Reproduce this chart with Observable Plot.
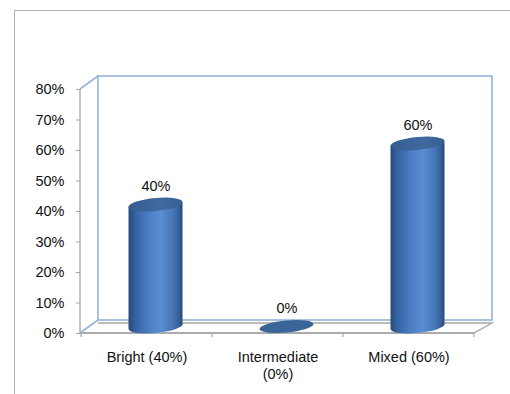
<!DOCTYPE html>
<html><head><meta charset="utf-8">
<script src="https://cdn.jsdelivr.net/npm/d3@7"></script>
<script src="https://cdn.jsdelivr.net/npm/@observablehq/plot@0.6"></script>
<style>
html,body{margin:0;padding:0;background:#fff;}
#wrap{position:relative;width:510px;height:394px;overflow:hidden;}
#chart{position:absolute;left:0;top:0;}
#border{position:absolute;left:14px;top:10px;right:-4px;bottom:-4px;border-left:1px solid #B0B0B0;border-top:1px solid #B0B0B0;pointer-events:none;}
</style></head><body><div id="wrap"><div id="chart"></div><div id="border"></div></div>
<script>
const categories = ["Bright (40%)", "Intermediate\n(0%)", "Mixed (60%)"];
const values = [0.40, 0.00, 0.60];
const valueLabels = ["40%", "0%", "60%"];
const yTicks = [0, 0.1, 0.2, 0.3, 0.4, 0.5, 0.6, 0.7, 0.8];
const yMax = 0.8;

const data = categories.map((c, i) => ({category: c, value: values[i], label: valueLabels[i]}));

const DX = 18, DY = -13;          // depth offset of the back wall
const WALL = "#95B3D7", GRID = "#A6A6A6";

function scene(index, scales, vals, dimensions) {
  const {width, marginLeft, marginRight} = dimensions;
  const x0 = marginLeft, x1 = width - marginRight;
  const yb = scales.y(0), yt = scales.y(yMax);
  const n = categories.length;
  const bw = scales.x.bandwidth ? scales.x.bandwidth() : (x1 - x0) / n;
  const g = d3.create("svg:g");
  const defs = g.append("defs");
  const grad = defs.append("linearGradient").attr("id", "cyl").attr("x1", 0).attr("x2", 1).attr("y1", 0).attr("y2", 0);
  [[0, "#274a78"], [0.12, "#3461a0"], [0.35, "#4a7cc0"], [0.6, "#5a8ed4"], [0.82, "#4676b6"], [0.94, "#345e98"], [1, "#26466f"]]
    .forEach(([o, c]) => grad.append("stop").attr("offset", o).attr("stop-color", c));
  const tgrad = defs.append("linearGradient").attr("id", "cyltop").attr("x1", 0).attr("x2", 1).attr("y1", 0).attr("y2", 0);
  [[0, "#355d8f"], [0.6, "#4069a0"], [1, "#36608f"]]
    .forEach(([o, c]) => tgrad.append("stop").attr("offset", o).attr("stop-color", c));

  // floor
  g.append("path").attr("d", `M${x0},${yb}L${x1},${yb}L${x1 + DX},${yb + DY + 3}L${x0 + DX},${yb + DY + 3}`)
    .attr("fill", "none").attr("stroke", GRID).attr("stroke-width", 1.3);
  // back wall
  g.append("rect").attr("x", x0 + DX).attr("y", yt + DY).attr("width", x1 - x0).attr("height", yb - yt)
    .attr("fill", "none").attr("stroke", WALL).attr("stroke-width", 1.6);
  // side wall diagonals
  g.append("line").attr("x1", x0).attr("y1", yt).attr("x2", x0 + DX).attr("y2", yt + DY).attr("stroke", WALL).attr("stroke-width", 1.6);
  g.append("line").attr("x1", x0).attr("y1", yb).attr("x2", x0 + DX).attr("y2", yb + DY).attr("stroke", WALL).attr("stroke-width", 1.6);
  // front axis line
  g.append("line").attr("x1", x0).attr("y1", yt).attr("x2", x0).attr("y2", yb).attr("stroke", GRID).attr("stroke-width", 1.3);
  g.append("line").attr("x1", x0).attr("y1", yb).attr("x2", x1).attr("y2", yb).attr("stroke", GRID).attr("stroke-width", 1.3);
  // category boundary ticks
  const bounds = categories.map(c => scales.x(c)).concat([scales.x(categories[n - 1]) + bw]);
  bounds.forEach(b => g.append("line").attr("x1", b).attr("x2", b).attr("y1", yb).attr("y2", yb + 4).attr("stroke", GRID).attr("stroke-width", 1.2));

  // cylinders
  const rx = bw * 0.206, ry = 6.5;
  data.forEach(d => {
    const cx = scales.x(d.category) + bw / 2 + DX / 2;
    const base = yb + DY / 2;
    const top = scales.y(d.value) + DY / 2;
    const cg = g.append("g").attr("transform", `translate(${cx},0) skewY(-5) translate(${-cx},0)`);
    if (d.value > 0) {
      cg.append("path")
        .attr("d", `M${cx - rx},${top}L${cx - rx},${base}A${rx},${ry} 0 0 0 ${cx + rx},${base}L${cx + rx},${top}Z`)
        .attr("fill", "url(#cyl)");
      cg.append("ellipse").attr("cx", cx).attr("cy", top).attr("rx", rx).attr("ry", ry).attr("fill", "url(#cyltop)");
    } else {
      cg.append("ellipse").attr("cx", cx).attr("cy", base).attr("rx", rx).attr("ry", ry - 0.5).attr("fill", "#3a6598");
    }
  });
  return g.node();
}

const plot = Plot.plot({
  width: 510,
  height: 394,
  marginLeft: 80,
  marginRight: 36,
  marginTop: 89,
  marginBottom: 61,
  style: {fontSize: "14.5px", fontFamily: "'Liberation Sans', Arial, sans-serif", color: "#111", background: "transparent"},
  x: {type: "band", domain: categories, padding: 0, axis: null},
  y: {domain: [0, yMax], nice: false, axis: null},
  marks: [
    scene,
    Plot.axisY({ticks: yTicks, tickFormat: d3.format(".0%"), tickSize: 4, tickPadding: 12, stroke: GRID, fill: "#111", label: null}),
    Plot.text(data, {x: "category", y: () => 0, text: "category", dy: 16, lineAnchor: "top", lineHeight: 1.17, fill: "#111"}),
    Plot.text(data, {x: "category", y: "value", text: "label", dx: DX / 2, dy: DY / 2 - 19, fill: "#111"})
  ]
});
document.getElementById("chart").appendChild(plot);
</script>
</body></html>
